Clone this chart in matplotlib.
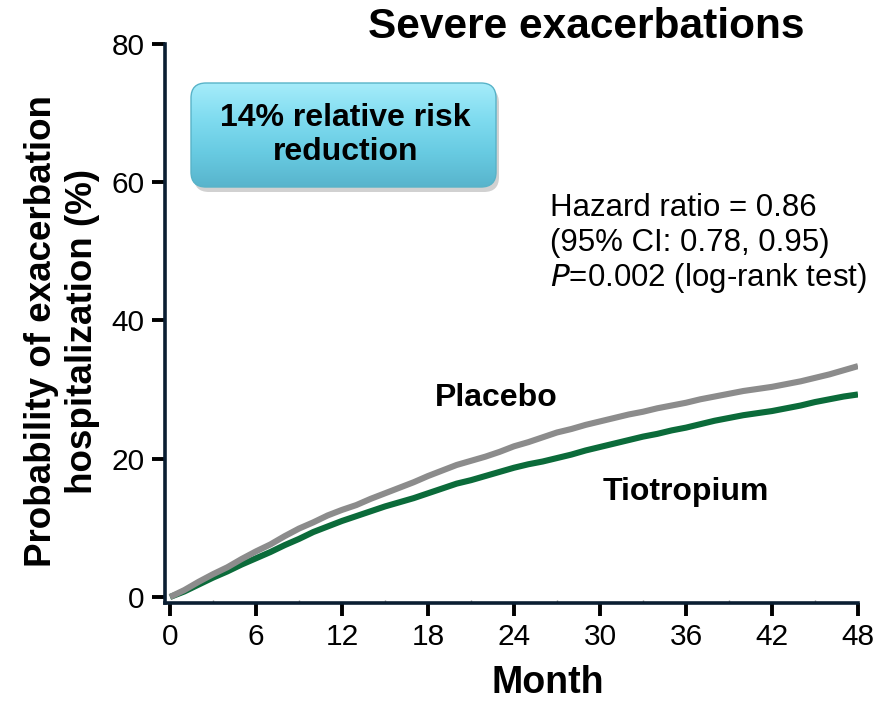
import matplotlib
matplotlib.use('Agg')
import matplotlib.pyplot as plt
import numpy as np
from matplotlib.patches import FancyBboxPatch

plt.rcParams['font.family'] = ['Liberation Sans', 'DejaVu Sans']

# Kaplan-Meier style cumulative probabilities (%)
months = list(range(0, 49))
placebo = [0, 1.0, 2.2, 3.3, 4.3, 5.5, 6.6, 7.6, 8.8, 9.9, 10.8, 11.8, 12.6,
           13.3, 14.2, 15.0, 15.8, 16.6, 17.5, 18.3, 19.1, 19.7, 20.3, 21.0,
           21.8, 22.4, 23.1, 23.8, 24.3, 24.9, 25.4, 25.9, 26.4, 26.8, 27.3,
           27.7, 28.1, 28.6, 29.0, 29.4, 29.8, 30.1, 30.4, 30.8, 31.2, 31.7,
           32.2, 32.8, 33.4]
tiotropium = [0, 0.8, 1.8, 2.8, 3.7, 4.7, 5.6, 6.5, 7.5, 8.4, 9.4, 10.2, 11.0,
              11.7, 12.4, 13.1, 13.7, 14.3, 15.0, 15.7, 16.4, 16.9, 17.5, 18.1,
              18.7, 19.2, 19.6, 20.1, 20.6, 21.2, 21.7, 22.2, 22.7, 23.2, 23.6,
              24.1, 24.5, 25.0, 25.5, 25.9, 26.3, 26.6, 26.9, 27.3, 27.7, 28.2,
              28.6, 29.0, 29.3]
x_ticks = [0, 6, 12, 18, 24, 30, 36, 42, 48]
y_ticks = [0, 20, 40, 60, 80]

W, H = 882, 704
fig = plt.figure(figsize=(W / 100, H / 100), dpi=100)
ax = fig.add_axes([165 / W, 101 / H, (858 - 165) / W, (660 - 101) / H])

ax.plot(months, placebo, color='#8c8c8c', lw=4.4, solid_capstyle='butt', zorder=3)
ax.plot(months, tiotropium, color='#0b6b3a', lw=4.4, solid_capstyle='butt', zorder=2)

ax.set_xlim(-0.35, 48)
ax.set_ylim(-0.87, 80)
ax.set_xticks(x_ticks)
ax.set_yticks(y_ticks)
ax.set_xticks([3, 9, 15, 21, 27, 33, 39, 45], minor=True)
ax.tick_params(axis='both', which='major', labelsize=21.5, length=9.5, width=2.8,
               color='black', pad=5)
ax.tick_params(axis='x', which='minor', direction='in', length=2, width=1,
               color='#888888')
for side in ['top', 'right']:
    ax.spines[side].set_visible(False)
for side in ['left', 'bottom']:
    ax.spines[side].set_color('#0a1e32')
    ax.spines[side].set_linewidth(2.6)

# overlay in pixel coordinates for the annotations
ov = fig.add_axes([0, 0, 1, 1], facecolor='none')
ov.set_xlim(0, W)
ov.set_ylim(H, 0)
ov.axis('off')

ov.text(62, 331, 'Probability of exacerbation\nhospitalization (%)', fontsize=26.5,
        fontweight='bold', rotation=90, ha='center', va='center',
        linespacing=1.2)
ov.text(548, 683, 'Month', fontsize=27, fontweight='bold', ha='center',
        va='center')
ov.text(586, 27, 'Severe exacerbations', fontsize=30.5, fontweight='bold',
        ha='center', va='center')

# rounded gradient box with shadow
bx, by, bw, bh = 191, 83, 305, 104
shadow = FancyBboxPatch((bx + 3, by + 5), bw, bh,
                        boxstyle='round,pad=0,rounding_size=15',
                        fc='#9a9a9a', ec='none', alpha=0.45, zorder=1)
ov.add_patch(shadow)
box = FancyBboxPatch((bx, by), bw, bh, boxstyle='round,pad=0,rounding_size=15',
                     fc='none', ec='#58b3c8', lw=1, zorder=3)
ov.add_patch(box)
grad = np.linspace(0, 1, 256).reshape(-1, 1)
cmap = matplotlib.colors.LinearSegmentedColormap.from_list(
    'cy', ['#a6ecfa', '#80dcf0', '#68cbe2', '#58b4cc'])
im = ov.imshow(grad, cmap=cmap, extent=(bx, bx + bw, by + bh, by),
               aspect='auto', zorder=2)
im.set_clip_path(box)
ov.text(bx + bw / 2 + 2, by + bh / 2, '14% relative risk\nreduction', fontsize=23,
        fontweight='bold', ha='center', va='center', linespacing=1.2, zorder=4)

ov.text(550, 208, 'Hazard ratio = 0.86', fontsize=22.5, ha='left', va='center')
ov.text(550, 243, '(95% CI: 0.78, 0.95)', fontsize=22.5, ha='left', va='center')
ov.text(550, 278, '$\\it{P}$=0.002 (log-rank test)', fontsize=22.5, ha='left',
        va='center')

ov.text(496, 398, 'Placebo', fontsize=23, fontweight='bold', ha='center',
        va='center')
ov.text(686, 492, 'Tiotropium', fontsize=23, fontweight='bold', ha='center',
        va='center')

ov.set_xlim(0, W)
ov.set_ylim(H, 0)

fig.savefig('out.png', dpi=100)
